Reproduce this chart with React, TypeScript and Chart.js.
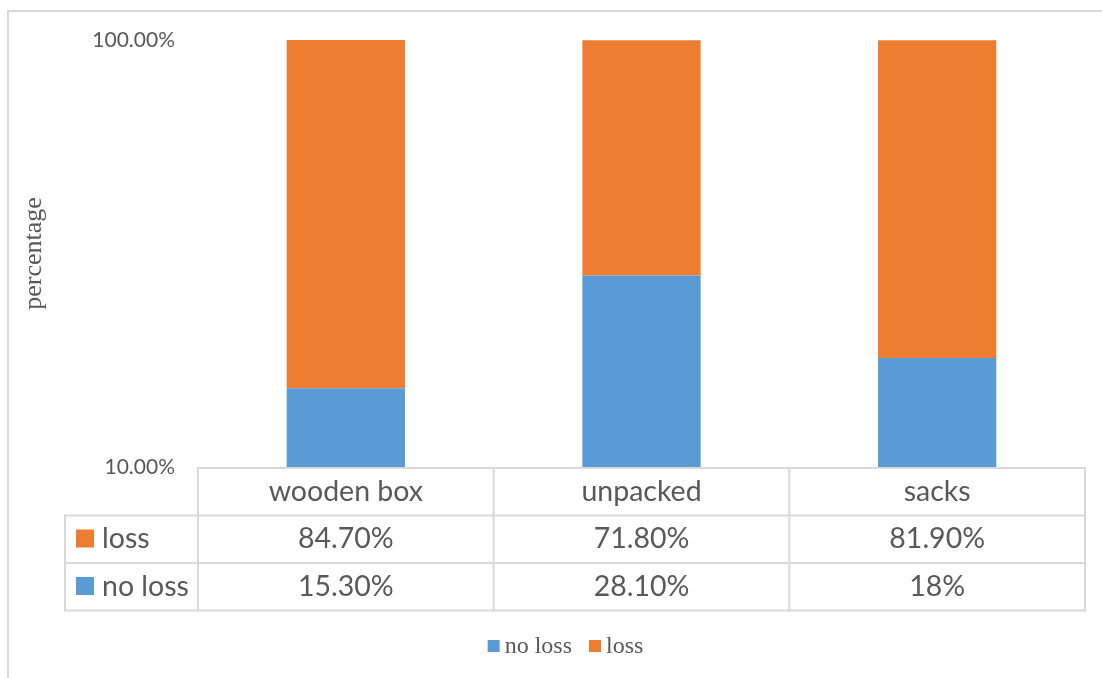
import { useEffect, useRef } from "react";
import { Chart, registerables } from "chart.js";

Chart.register(...registerables);

// Data
const categories = ["wooden box", "unpacked", "sacks"];
const noLoss = [0.153, 0.281, 0.18];
const loss = [0.847, 0.718, 0.819];
// Number of decimals each table cell is shown with
const noLossDecimals = [2, 2, 0];
const lossDecimals = [2, 2, 2];
const yTicks = [0.1, 1];

const TEXT = "#595959";
const LINE = "#D9D9D9";
const BLUE = "#5B9BD5";
const ORANGE = "#ED7D31";
const SANS = "Lato, 'Open Sans', sans-serif";
const SERIF = "'Liberation Serif', 'DejaVu Serif', serif";

const pct = (v: number, d: number) => (v * 100).toFixed(d) + "%";

// Light outer frame of the chart object
const framePlugin = {
  id: "frame",
  beforeDraw(chart: any) {
    const { ctx } = chart;
    ctx.save();
    ctx.fillStyle = "#ffffff";
    ctx.fillRect(0, 0, chart.width, chart.height);
    ctx.strokeStyle = LINE;
    ctx.lineWidth = 2;
    ctx.strokeRect(8, 11, chart.width + 100, chart.height + 100);
    ctx.restore();
  },
};

// Data table under the plot area plus the bottom legend
const tablePlugin = {
  id: "dataTable",
  afterDraw(chart: any) {
    const { ctx, chartArea } = chart;
    const xs = chart.scales.x;
    const left = chartArea.left;
    const right = chartArea.right;
    const top = chartArea.bottom + 1;
    const rowH = 47.5;
    const labelLeft = 65;
    const n = categories.length;
    const colW = (right - left) / n;

    ctx.save();
    ctx.strokeStyle = LINE;
    ctx.lineWidth = 2;
    const hline = (y: number, x0: number, x1: number) => {
      ctx.beginPath();
      ctx.moveTo(x0 - 1, y);
      ctx.lineTo(x1 + 1, y);
      ctx.stroke();
    };
    const vline = (x: number, y0: number, y1: number) => {
      ctx.beginPath();
      ctx.moveTo(x, y0);
      ctx.lineTo(x, y1);
      ctx.stroke();
    };
    hline(top, left, right);
    for (let r = 1; r <= 3; r++) hline(top + r * rowH, labelLeft, right);
    for (let i = 0; i <= n; i++) vline(left + i * colW, top - 1, top + 3 * rowH + 1);
    vline(labelLeft, top + rowH - 1, top + 3 * rowH + 1);

    ctx.fillStyle = TEXT;
    ctx.font = `28.5px ${SANS}`;
    ctx.textBaseline = "alphabetic";
    ctx.textAlign = "center";
    const base = 32.7;
    categories.forEach((c, i) => {
      ctx.fillText(c, xs.getPixelForValue(i), top + base);
    });

    const rows = [
      { ds: chart.data.datasets[1], decimals: lossDecimals },
      { ds: chart.data.datasets[0], decimals: noLossDecimals },
    ];
    rows.forEach((row, r) => {
      const rowTop = top + (r + 1) * rowH;
      ctx.fillStyle = row.ds.backgroundColor;
      ctx.fillRect(76, rowTop + 14, 18, 18);
      ctx.fillStyle = TEXT;
      ctx.textAlign = "left";
      ctx.fillText(row.ds.label, 102, rowTop + base);
      ctx.textAlign = "center";
      (row.ds.data as number[]).forEach((v, i) => {
        ctx.fillText(pct(v, row.decimals[i]), xs.getPixelForValue(i), rowTop + base);
      });
    });

    // Legend
    ctx.font = `24px ${SERIF}`;
    ctx.textAlign = "left";
    const box = 12;
    const gap = 5;
    const itemGap = 17;
    const items = chart.data.datasets.map((d: any) => ({
      label: d.label,
      color: d.backgroundColor,
      w: ctx.measureText(d.label).width,
    }));
    let total = -itemGap;
    items.forEach((it: any) => (total += box + gap + it.w + itemGap));
    let x = 565.5 - total / 2;
    const baseline = 653;
    items.forEach((it: any) => {
      ctx.fillStyle = it.color;
      ctx.fillRect(x, 640, box, box);
      ctx.fillStyle = TEXT;
      ctx.fillText(it.label, x + box + gap, baseline);
      x += box + gap + it.w + itemGap;
    });
    ctx.restore();
  },
};

export default function App() {
  const ref = useRef<HTMLCanvasElement>(null);

  useEffect(() => {
    if (!ref.current) return;
    const chart = new Chart(ref.current, {
      type: "bar",
      data: {
        labels: categories,
        datasets: [
          { label: "no loss", data: noLoss, backgroundColor: BLUE },
          { label: "loss", data: loss, backgroundColor: ORANGE },
        ],
      },
      options: {
        animation: false,
        responsive: false,
        devicePixelRatio: 1,
        layout: { padding: { left: 10, right: 17, top: 40, bottom: 211 } },
        datasets: {
          bar: { categoryPercentage: 1, barPercentage: 0.4, borderWidth: 0 },
        },
        plugins: {
          legend: { display: false },
          tooltip: { enabled: false },
        },
        scales: {
          x: {
            display: false,
            stacked: true,
            grid: { display: false },
          },
          y: {
            type: "logarithmic",
            stacked: true,
            min: 0.1,
            max: 1,
            grid: { display: false, drawTicks: false },
            border: { display: false },
            afterBuildTicks: (s: any) => {
              s.ticks = yTicks.map((v) => ({ value: v }));
            },
            afterFit: (s: any) => {
              s.width = 188;
            },
            ticks: {
              padding: 23,
              color: TEXT,
              font: { family: SANS, size: 21 },
              callback: (v: any) => pct(Number(v), 2),
            },
            title: {
              display: true,
              text: "percentage",
              color: TEXT,
              font: { family: SERIF, size: 26 },
              padding: { top: 9, bottom: 0 },
            },
          },
        },
      },
      plugins: [framePlugin, tablePlugin],
    });
    return () => chart.destroy();
  }, []);

  return (
    <div style={{ position: "absolute", left: 0, top: 0, width: 1102, height: 678, overflow: "hidden" }}>
      <canvas ref={ref} width={1102} height={678} style={{ display: "block", width: 1102, height: 678 }} />
    </div>
  );
}
